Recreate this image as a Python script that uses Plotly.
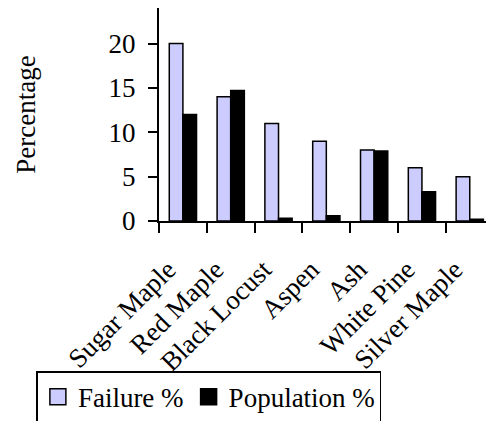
import plotly.graph_objects as go

categories = ["Sugar Maple", "Red Maple", "Black Locust", "Aspen", "Ash", "White Pine", "Silver Maple"]
failure_pct = [20, 14, 11, 9, 8, 6, 5]
population_pct = [12, 14.7, 0.3, 0.6, 7.9, 3.3, 0.2]
y_ticks = [0, 5, 10, 15, 20]

FONT = "Liberation Serif"
FS = 27
FAIL_COLOR = "#CCCCFF"

fig = go.Figure()
fig.add_trace(go.Bar(
    x=categories, y=failure_pct, name="Failure %",
    marker=dict(color=FAIL_COLOR, line=dict(color="black", width=1.5)),
    showlegend=False,
))
fig.add_trace(go.Bar(
    x=categories, y=population_pct, name="Population %",
    marker=dict(color="black", line=dict(color="black", width=1.5)),
    showlegend=False,
))
# legend entries
fig.add_trace(go.Scatter(
    x=[None], y=[None], mode="markers", name="Failure %",
    marker=dict(symbol="square", size=16, color=FAIL_COLOR, line=dict(color="black", width=1.5)),
))
fig.add_trace(go.Scatter(
    x=[None], y=[None], mode="markers", name="Population %",
    marker=dict(symbol="square", size=16, color="black", line=dict(color="black", width=1.5)),
))

fig.update_layout(
    width=486, height=421,
    margin=dict(l=159, r=0, t=8, b=200, autoexpand=False),
    paper_bgcolor="white", plot_bgcolor="white",
    font=dict(family=FONT, size=FS, color="black"),
    barmode="group", bargap=0.43, bargroupgap=0,
    legend=dict(
        orientation="h", x=-0.375, y=-0.705, xanchor="left", yanchor="top",
        bordercolor="black", borderwidth=1.5, bgcolor="white",
        font=dict(family=FONT, size=FS, color="black"),
        itemclick=False, itemdoubleclick=False,
    ),
    xaxis=dict(
        type="category", range=[-0.5, 6.34],
        showline=True, linecolor="black", linewidth=2,
        ticks="outside", ticklen=10, tickwidth=1.5, tickcolor="black",
        tickson="boundaries", tickangle=-45,
        ticklabelshift=-15, ticklabelstandoff=20,
        tickfont=dict(family=FONT, size=FS, color="black"),
        showgrid=False, zeroline=False,
    ),
    yaxis=dict(
        range=[0, 24], tickvals=y_ticks,
        showline=True, linecolor="black", linewidth=2,
        ticks="outside", ticklen=9, tickwidth=1.5, tickcolor="black",
        ticklabelstandoff=7,
        tickfont=dict(family=FONT, size=FS, color="black"),
        showgrid=False, zeroline=False,
        title=dict(text="Percentage", font=dict(family=FONT, size=FS, color="black"), standoff=65),
    ),
)

fig.write_html("out.html", config={"displayModeBar": False},
               post_script="document.body.style.margin='0';")
